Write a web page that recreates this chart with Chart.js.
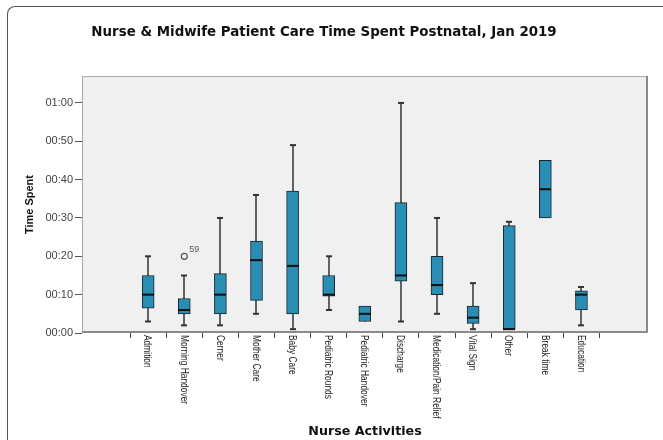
<!DOCTYPE html>
<html>
<head>
<meta charset="utf-8">
<script src="https://cdn.jsdelivr.net/npm/chart.js@4"></script>
<style>
  body { margin: 0; background: #fff; }
  #wrap { position: relative; width: 663px; height: 440px; }
  #frame { position: absolute; left: 7px; top: 6px; width: 700px; height: 500px;
           border-left: 1px solid #555; border-top: 1px solid #555; border-top-left-radius: 8px; }
  canvas { position: absolute; left: 0; top: 0; }
</style>
</head>
<body>
<div id="wrap">
  <div id="frame"></div>
  <canvas id="box-chart" width="663" height="440"></canvas>
</div>
<script>
// time spent per activity, in minutes
let categories = ['Admition', 'Morning Handover', 'Cerner', 'Mother Care', 'Baby Care', 'Pediatric Rounds',
    'Pediatric Handover', 'Discharge', 'Medication/Pain Relief', 'Vital Sign', 'Other', 'Break time', 'Education'];
let mins    = [3,   2, 2,    5,   1,    6,   3, 3,    5,    1,   1,  30,   2];
let q1s     = [6.5, 5, 5,    8.5, 5,    9.6, 3, 13.5, 10,   2.5, 1,  30,   6];
let medians = [10,  6, 10,   19,  17.5, 10,  5, 15,   12.5, 4,   1,  37.5, 10];
let q3s     = [15,  9, 15.5, 24,  37,   15,  7, 34,   20,   7,   28, 45,   11];
let maxs    = [20,  15, 30,  36,  49,   20,  7, 60,   30,   13,  29, 45,   12];
let outlierCats = [1];
let outlierValues = [20];
let outlierLabels = ['59'];
let yTicks = [0, 10, 20, 30, 40, 50, 60];

function fmtTime(v) {
    return String(Math.floor(v / 60)).padStart(2, '0') + ':' + String(v % 60).padStart(2, '0');
}

const boxParts = {
    id: 'boxParts',
    beforeDraw(chart) {
        const a = chart.chartArea, ctx = chart.ctx;
        ctx.save();
        ctx.fillStyle = '#f0f0f0';
        ctx.fillRect(a.left, a.top, a.right - a.left, a.bottom - a.top);
        ctx.restore();
    },
    beforeDatasetsDraw(chart) {
        const x = chart.scales.x, y = chart.scales.y, ctx = chart.ctx;
        ctx.save();
        ctx.strokeStyle = '#333';
        ctx.lineWidth = 1.5;
        for (let i = 0; i < categories.length; i++) {
            const px = Math.round(x.getPixelForValue(i));
            ctx.beginPath();
            ctx.moveTo(px, y.getPixelForValue(mins[i]));
            ctx.lineTo(px, y.getPixelForValue(maxs[i]));
            ctx.stroke();
            ctx.lineWidth = 2;
            if (mins[i] < q1s[i]) {
                ctx.beginPath();
                ctx.moveTo(px - 3, y.getPixelForValue(mins[i]));
                ctx.lineTo(px + 3, y.getPixelForValue(mins[i]));
                ctx.stroke();
            }
            if (maxs[i] > q3s[i]) {
                ctx.beginPath();
                ctx.moveTo(px - 3, y.getPixelForValue(maxs[i]));
                ctx.lineTo(px + 3, y.getPixelForValue(maxs[i]));
                ctx.stroke();
            }
            ctx.lineWidth = 1.5;
        }
        ctx.restore();
    },
    afterDatasetsDraw(chart) {
        const x = chart.scales.x, y = chart.scales.y, ctx = chart.ctx, a = chart.chartArea;
        ctx.save();
        // medians
        ctx.strokeStyle = '#111';
        ctx.lineWidth = 2;
        for (let i = 0; i < categories.length; i++) {
            const px = Math.round(x.getPixelForValue(i));
            const py = y.getPixelForValue(medians[i]);
            ctx.beginPath();
            ctx.moveTo(px - 6, py);
            ctx.lineTo(px + 6, py);
            ctx.stroke();
        }
        // outliers
        ctx.strokeStyle = '#555';
        ctx.lineWidth = 1.2;
        ctx.fillStyle = '#555';
        ctx.font = '9px "Liberation Sans", Arial, sans-serif';
        for (let k = 0; k < outlierCats.length; k++) {
            const px = x.getPixelForValue(outlierCats[k]);
            const py = y.getPixelForValue(outlierValues[k]);
            ctx.beginPath();
            ctx.arc(px, py, 3, 0, Math.PI * 2);
            ctx.stroke();
            ctx.textAlign = 'left';
            ctx.textBaseline = 'middle';
            ctx.fillText(outlierLabels[k], px + 5, py - 7);
        }
        // plot frame
        ctx.lineWidth = 1;
        ctx.strokeStyle = '#a8a8a8';
        ctx.beginPath();
        ctx.moveTo(a.left + 0.5, a.bottom);
        ctx.lineTo(a.left + 0.5, a.top + 0.5);
        ctx.lineTo(a.right, a.top + 0.5);
        ctx.stroke();
        ctx.lineWidth = 2;
        ctx.strokeStyle = '#8a8a8a';
        ctx.beginPath();
        ctx.moveTo(a.right - 1, a.top);
        ctx.lineTo(a.right - 1, a.bottom - 1);
        ctx.lineTo(a.left, a.bottom - 1);
        ctx.stroke();
        ctx.restore();
    },
    afterDraw(chart) {
        const x = chart.scales.x, ctx = chart.ctx, a = chart.chartArea;
        ctx.save();
        ctx.fillStyle = '#222';
        ctx.font = '10px "Liberation Sans", Arial, sans-serif';
        ctx.textAlign = 'left';
        ctx.textBaseline = 'middle';
        for (let i = 0; i < categories.length; i++) {
            ctx.save();
            ctx.translate(x.getPixelForValue(i) - 1, a.bottom + 2);
            ctx.rotate(Math.PI / 2);
            ctx.scale(0.84, 1); // narrow lettering like the original
            ctx.fillText(categories[i], 0, 0);
            ctx.restore();
        }
        ctx.restore();
    }
};

const ctx = document.getElementById('box-chart').getContext('2d');

let chart = new Chart(ctx, {
    type: 'bar',
    data: {
        datasets: [{
            label: 'Time Spent',
            data: categories.map((c, i) => ({ x: i, y: [q1s[i], q3s[i]] })),
            backgroundColor: '#2a8db3',
            borderColor: '#1a242a',
            borderWidth: 1,
            borderSkipped: false,
            barThickness: 12
        }]
    },
    options: {
        responsive: false,
        animation: false,
        layout: {
            padding: { left: 0, right: 15, top: 0, bottom: 0 }
        },
        scales: {
            x: {
                type: 'linear',
                min: -1.23,
                max: 13.24,
                afterBuildTicks: scale => { scale.ticks = categories.map((c, i) => ({ value: i })); },
                afterFit: scale => { scale.height = 107; },
                ticks: { callback: () => '', padding: 0 },
                grid: { drawOnChartArea: false, drawTicks: true, tickLength: 5, color: '#444' },
                border: { display: false },
                title: {
                    display: true,
                    text: 'Nurse Activities',
                    color: '#111',
                    font: { family: '"DejaVu Sans"', size: 12.7, weight: 'bold' },
                    padding: { top: 0, bottom: 1 }
                }
            },
            y: {
                min: 0,
                max: 67,
                afterBuildTicks: scale => { scale.ticks = yTicks.map(v => ({ value: v })); },
                afterFit: scale => { scale.width = 82; },
                ticks: {
                    callback: v => fmtTime(v),
                    color: '#444',
                    padding: 2,
                    font: { family: '"Liberation Sans", Arial', size: 11 }
                },
                grid: { drawOnChartArea: false, drawTicks: true, tickLength: 7, color: '#555' },
                border: { display: false },
                title: {
                    display: true,
                    text: 'Time Spent',
                    color: '#111',
                    font: { family: '"Liberation Sans", Arial', size: 11, weight: 'bold' },
                    padding: { top: 23, bottom: 0 }
                }
            }
        },
        plugins: {
            legend: { display: false },
            tooltip: { enabled: false },
            title: {
                display: true,
                text: 'Nurse & Midwife Patient Care Time Spent Postnatal, Jan 2019',
                color: '#111',
                font: { family: '"DejaVu Sans"', size: 13.4, weight: 'bold' },
                padding: { top: 24, bottom: 36 }
            }
        }
    },
    plugins: [boxParts]
});
</script>
</body>
</html>
